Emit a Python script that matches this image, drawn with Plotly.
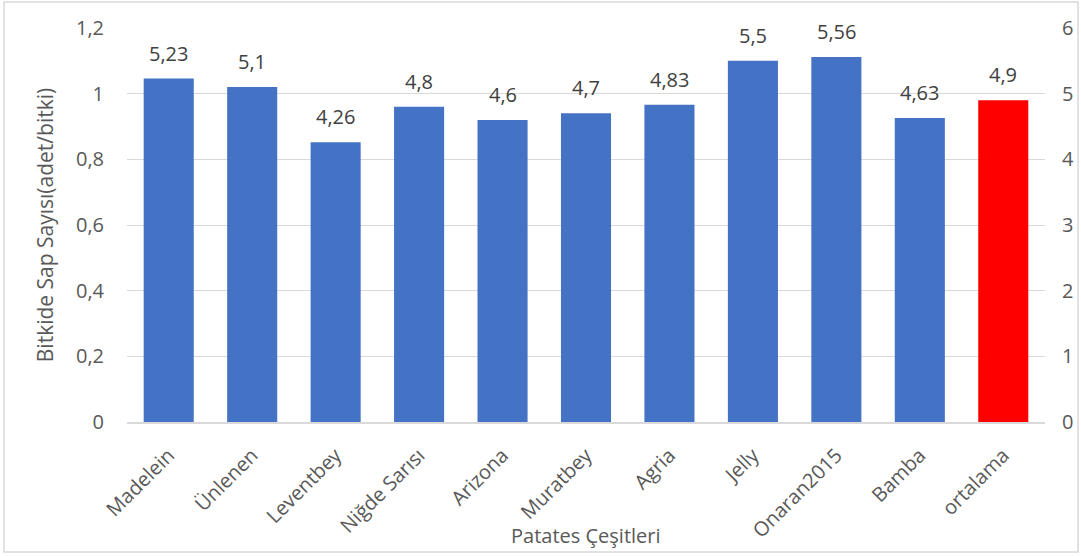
import plotly.graph_objects as go

categories = ["Madelein", "Ünlenen", "Leventbey", "Niğde Sarısı", "Arizona", "Muratbey",
              "Agria", "Jelly", "Onaran2015", "Bamba", "ortalama"]
values = [5.23, 5.1, 4.26, 4.8, 4.6, 4.7, 4.83, 5.5, 5.56, 4.63, 4.9]
labels = ["5,23", "5,1", "4,26", "4,8", "4,6", "4,7", "4,83", "5,5", "5,56", "4,63", "4,9"]
colors = ["#4472C4"] * 10 + ["#FF0000"]

left_ticks = [0, 0.2, 0.4, 0.6, 0.8, 1.0, 1.2]
right_ticks = [0, 1, 2, 3, 4, 5, 6]

x_title = "Patates Çeşitleri"
y_title = "Bitkide Sap Sayısı(adet/bitki)"

W, H = 1081, 556
ml, mr, mt, mb = 127, 36, 28, 134
pw, ph = W - ml - mr, H - mt - mb
font_fam = "Open Sans, Liberation Sans, sans-serif"

fig = go.Figure()
fig.add_trace(go.Bar(x=categories, y=[0] * len(categories), yaxis="y", showlegend=False,
                     hoverinfo="skip", marker_color="rgba(0,0,0,0)"))
fig.add_trace(go.Bar(x=categories, y=values, yaxis="y2", marker_color=colors,
                     marker_line_width=0, showlegend=False))

for c, v, t in zip(categories, values, labels):
    fig.add_annotation(x=c, y=v, xref="x", yref="y2", text=t, showarrow=False,
                       yanchor="bottom", yshift=10,
                       font=dict(family=font_fam, size=20, color="#404040"))

# x-axis title placed just under the plot like the reference
fig.add_annotation(x=0.5, y=-(535 - 422) / ph, xref="paper", yref="paper", text=x_title,
                   showarrow=False, yanchor="middle",
                   font=dict(family=font_fam, size=20, color="#595959"))

fig.update_layout(
    width=W, height=H,
    margin=dict(l=ml, r=mr, t=mt, b=mb, autoexpand=False),
    paper_bgcolor="white", plot_bgcolor="white",
    separators=",.",
    barmode="overlay",
    bargap=0.4,
    font=dict(family=font_fam, color="#595959"),
    xaxis=dict(tickangle=-45, tickfont=dict(size=20, color="#595959"),
               showline=True, linecolor="#D9D9D9", linewidth=1.5,
               ticklabelstandoff=12, automargin=False, ticks=""),
    yaxis=dict(range=[0, 1.2], tickvals=left_ticks, tickformat=".1~f", automargin=False,
               showgrid=True, gridcolor="#D9D9D9", gridwidth=1.2, zeroline=False,
               tickfont=dict(size=20, color="#595959"), ticklabelstandoff=22,
               title=dict(text=y_title, font=dict(size=21, color="#595959"), standoff=16)),
    yaxis2=dict(range=[0, 6], tickvals=right_ticks, overlaying="y", side="right", automargin=False,
                showgrid=False, zeroline=False, tickfont=dict(size=20, color="#595959"),
                ticklabelstandoff=16),
)
fig.add_shape(type="rect", xref="paper", yref="paper",
              x0=-(ml - 4) / pw, x1=1 + (mr - 3) / pw,
              y0=-(mb - 4) / ph, y1=1 + (mt - 2) / ph,
              line=dict(color="#D9D9D9", width=1.5), fillcolor="rgba(0,0,0,0)", layer="below")
fig.write_html("out.html")
